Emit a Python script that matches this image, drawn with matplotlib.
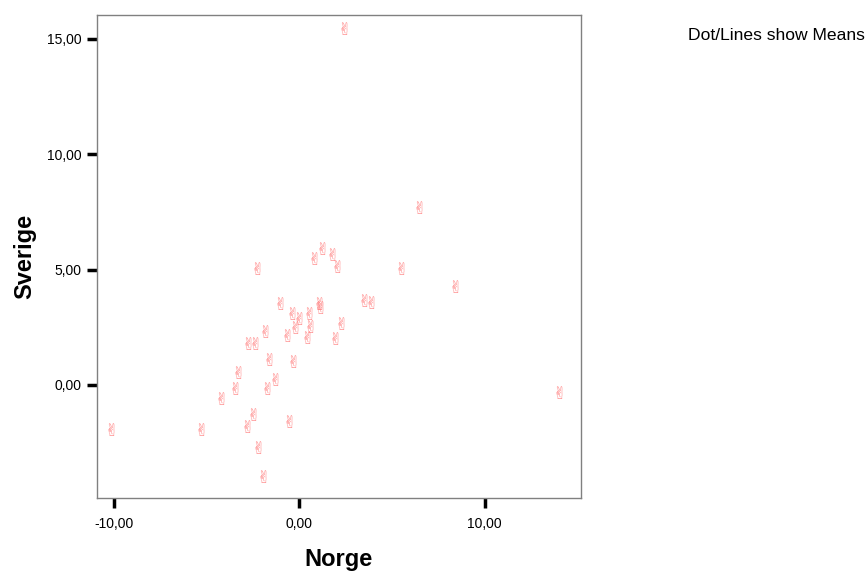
import matplotlib
matplotlib.use("Agg")
import matplotlib.pyplot as plt
from matplotlib.transforms import offset_copy

norge = [2.44, 6.49, 1.28, 0.81, 1.80, 2.09, -2.25, 5.54, 8.41, 3.52,
         3.88, -1.01, 1.08, 1.17, -0.36, 0.00, 0.54, -0.18, 0.61, 2.26,
         -1.82, -0.65, 0.43, 1.98, -2.71, -2.36, -1.62, -0.29, -3.27, -3.45,
         -1.71, -1.26, -4.17, 14.02, -10.13, -5.27, -2.44, -2.80, -0.54, -2.17,
         -1.90]
sverige = [15.46, 7.73, 5.93, 5.49, 5.67, 5.15, 5.06, 5.06, 4.29, 3.68,
           3.58, 3.54, 3.54, 3.37, 3.11, 2.90, 3.11, 2.53, 2.57, 2.70,
           2.35, 2.15, 2.07, 2.02, 1.81, 1.83, 1.11, 1.05, 0.55, -0.12,
           -0.12, 0.25, -0.55, -0.32, -1.92, -1.92, -1.27, -1.79, -1.57, -2.67,
           -3.96]
xticks = [-10, 0, 10]
yticks = [0, 5, 10, 15]
xlabel = "Norge"
ylabel = "Sverige"
note = "Dot/Lines show Means"

plt.rcParams['font.family'] = ['Liberation Sans', 'DejaVu Sans']

fig = plt.figure(figsize=(8.67, 5.73), dpi=100)
ax = fig.add_axes([97/867, 1 - 498/573, (581 - 97)/867, (498 - 15)/573])

tr = offset_copy(ax.transData, fig=fig, x=0, y=-1.5, units='points')
for x, y in zip(norge, sverige):
    ax.text(x, y, "\u270c", family='DejaVu Sans', fontsize=12, color='#ff7070',
            ha='center', va='center', alpha=0.85, transform=tr)

ax.set_xlim(-10.89, 15.2)
ax.set_ylim(-4.9, 16.04)
ax.set_xticks(xticks)
ax.set_yticks(yticks)
ax.set_xticklabels([f"{v:.2f}".replace('.', ',') for v in xticks])
ax.set_yticklabels([f"{v:.2f}".replace('.', ',') for v in yticks])
ax.tick_params(axis='both', direction='out', length=7, width=2.5, color='black',
               labelsize=10, pad=4)
ax.tick_params(axis='x', pad=7)
for s in ax.spines.values():
    s.set_color('#808080')
    s.set_linewidth(1)

ax.set_xlabel(xlabel, fontsize=17, fontweight='bold', labelpad=12)
ax.set_ylabel(ylabel, fontsize=17, fontweight='bold', labelpad=8)

fig.text(688/867, 1 - 35/573, note, fontsize=12.6, ha='left', va='center')

fig.savefig("out.png", dpi=100)
